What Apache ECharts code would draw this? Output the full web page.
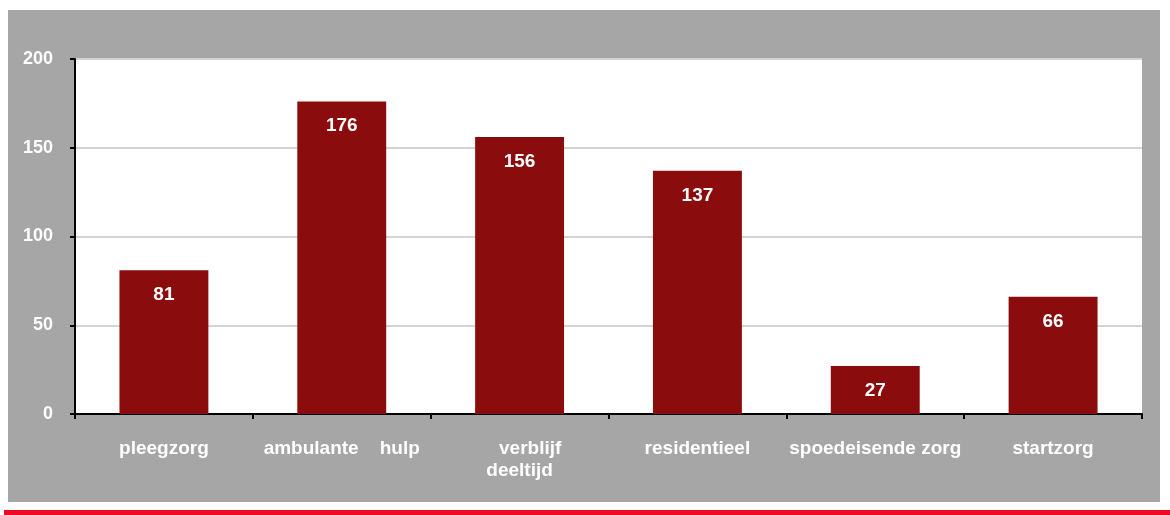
<!DOCTYPE html>
<html>
<head>
<meta charset="utf-8">
<script src="https://cdn.jsdelivr.net/npm/echarts@6/dist/echarts.min.js"></script>
<style>
  html, body { margin: 0; padding: 0; background: #ffffff; }
  #chart { width: 1170px; height: 515px; }
</style>
</head>
<body>
<div id="chart"></div>
<script>
// Zorgvormen en aantallen
const categories = ['pleegzorg', 'ambulante    hulp', '    verblijf\ndeeltijd', 'residentieel', 'spoedeisende zorg', 'startzorg'];
const values = [81, 176, 156, 137, 27, 66];
const yTicks = { min: 0, max: 200, interval: 50 };

const chart = echarts.init(document.getElementById('chart'), null, { renderer: 'canvas' });

const font = 'Liberation Sans, Arial, sans-serif';

chart.setOption({
  backgroundColor: '#ffffff',
  animation: false,
  graphic: [
    { type: 'rect', z: -10, shape: { x: 8, y: 10, width: 1152, height: 492 }, style: { fill: '#a6a6a6' } },
    { type: 'rect', z: -10, shape: { x: 4, y: 510, width: 1166, height: 6 }, style: { fill: '#ee0a24' } }
  ],
  grid: {
    left: 75, right: 28, top: 59, bottom: 101,
    show: true, backgroundColor: '#ffffff', borderWidth: 0
  },
  xAxis: {
    type: 'category',
    data: categories,
    axisLine: { lineStyle: { color: '#000000', width: 2 } },
    axisTick: { show: true, length: 5, lineStyle: { color: '#000000', width: 2 } },
    axisLabel: {
      color: '#ffffff', fontFamily: font,
      fontWeight: 'bold', fontSize: 19, margin: 24, lineHeight: 22, interval: 0
    }
  },
  yAxis: {
    type: 'value',
    min: yTicks.min, max: yTicks.max, interval: yTicks.interval,
    axisLine: { show: true, lineStyle: { color: '#000000', width: 2 } },
    axisTick: { show: true, length: 5, lineStyle: { color: '#000000', width: 2 } },
    axisLabel: {
      color: '#ffffff', fontFamily: font,
      fontWeight: 'bold', fontSize: 18, margin: 22
    },
    splitLine: { show: true, lineStyle: { color: '#d4d4d4', width: 2 } }
  },
  series: [{
    type: 'bar',
    data: values,
    barWidth: '50%',
    itemStyle: { color: '#8b0c0c' },
    label: {
      show: true, position: 'insideTop', distance: 15,
      color: '#ffffff', fontFamily: font,
      fontWeight: 'bold', fontSize: 19
    }
  }]
});
</script>
</body>
</html>
